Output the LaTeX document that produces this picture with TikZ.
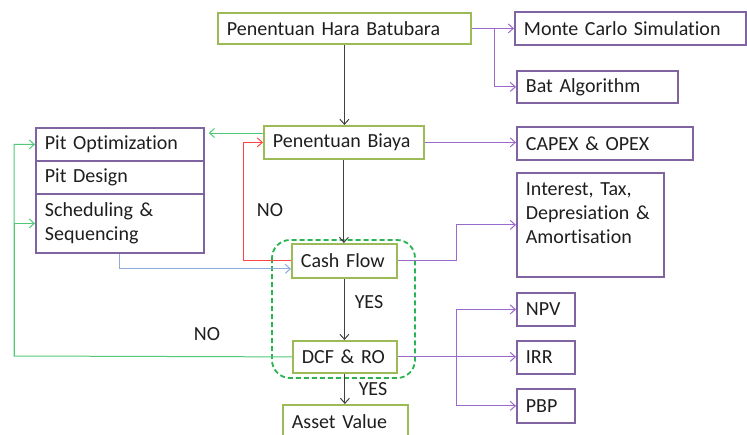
\documentclass[tikz,border=0pt]{standalone}
\usepackage{fontspec}
\setmainfont{Carlito}[Ligatures=NoCommon]
\usetikzlibrary{arrows.meta,positioning,calc}

\definecolor{boxgreen}{RGB}{155,187,89}
\definecolor{boxpurple}{RGB}{128,100,162}
\definecolor{linepurple}{RGB}{155,105,205}
\definecolor{linegreen}{RGB}{80,200,120}
\definecolor{dashgreen}{RGB}{40,180,80}
\definecolor{linered}{RGB}{255,70,70}
\definecolor{lineblue}{RGB}{140,170,220}
\definecolor{txtdark}{RGB}{30,30,30}

\begin{document}
\begin{tikzpicture}[x=1pt, y=-1pt,
    box/.style={draw, line width=1.8pt, anchor=north west, align=left,
        inner xsep=9pt, inner ysep=0pt, text=txtdark,
        font=\fontsize{20}{24}\selectfont},
    gbox/.style={box, draw=boxgreen},
    pbox/.style={box, draw=boxpurple},
    conn/.style={line width=1pt, -{Straight Barb[length=5pt,width=9pt]}},
    blk/.style={conn, draw=black!75},
    parr/.style={conn, draw=linepurple},
    garr/.style={conn, draw=linegreen},
    rarr/.style={conn, draw=linered},
    barr/.style={conn, draw=lineblue},
    lbl/.style={text=txtdark, font=\fontsize{20}{24}\selectfont}]
    \clip (0,0) rectangle (747,434);

    % Main flow
    \node[gbox, text width=235pt, minimum height=31pt] (hara) at (217,12) {Penentuan Hara Batubara};
    \node[gbox, text width=142pt, minimum height=33pt] (biaya) at (263,125) {Penentuan Biaya};
    \node[gbox, text width=87pt, minimum height=34pt] (cash) at (291,243) {Cash Flow};
    \node[gbox, text width=86pt, minimum height=32pt] (dcf) at (292,340) {DCF \& RO};
    \node[gbox, text width=107pt, minimum height=34pt] (asset) at (282,404) {Asset Value};

    % Right side boxes
    \node[pbox, text width=213pt, minimum height=33pt] (monte) at (514,11) {Monte Carlo Simulation};
    \node[pbox, text width=143pt, minimum height=32pt] (bat) at (516,70) {Bat Algorithm};
    \node[pbox, text width=158pt, minimum height=33pt] (capex) at (516,126) {CAPEX \& OPEX};
    \node[pbox, text width=129pt, minimum height=104pt] (interest) at (516,172)
        {Interest, Tax,\\Depresiation~\&\\Amortisation\\\mbox{}};
    \node[pbox, text width=40pt, minimum height=33pt] (npv) at (516,292) {NPV};
    \node[pbox, text width=40pt, minimum height=33pt] (irr) at (516,340) {IRR};
    \node[pbox, text width=40pt, minimum height=34pt] (pbp) at (516,388) {PBP};

    % Left stack
    \node[pbox, text width=150pt, minimum height=33pt] (pitopt) at (35,127) {Pit Optimization};
    \node[pbox, text width=150pt, minimum height=33pt] (pitdes) at (35,160) {Pit Design};
    \node[pbox, text width=150pt, minimum height=59pt] (sched) at (35,193) {Scheduling \&\\Sequencing};

    % Dashed group
    \draw[dashgreen, line width=1.8pt, dash pattern=on 5pt off 3pt, rounded corners=18pt]
        (272,240) rectangle (415,378);

    % Vertical arrows
    \draw[blk] (hara.south) -- (hara.south |- biaya.north);
    \draw[blk] (biaya.south) -- (biaya.south |- cash.north);
    \draw[blk] (cash.south) -- (cash.south |- dcf.north);
    \draw[blk] (dcf.south) -- (dcf.south |- asset.north);

    % Purple branches
    \draw[parr] (hara.east) -- (hara.east -| monte.west);
    \draw[parr] (hara.east) -- ++(23,0) |- (bat.west);
    \draw[parr] (biaya.east) -- (biaya.east -| capex.west);
    \draw[parr] (cash.east) -- ++(59,0) |- (interest.west);
    \draw[parr] (dcf.east) -- ++(59,0) |- (npv.west);
    \draw[parr] (dcf.east) -- (dcf.east -| irr.west);
    \draw[parr] (dcf.east) -- ++(59,0) |- (pbp.west);

    % Feedback loops
    \draw[garr] ([yshift=-8pt]biaya.north west) -- ([yshift=-8pt,xshift=4pt]biaya.north west -| pitopt.east);
    \draw[rarr] (cash.west) -- ++(-48,0) |- (biaya.west);
    \draw[barr] ([xshift=84pt]sched.south west) |- ([yshift=-8pt]cash.west);
    \coordinate (gl) at (14,356);
    \draw[garr] (dcf.west) -- (gl) |- (pitopt.west);
    \draw[garr] (gl) |- (sched.west);

    % Labels
    \node[lbl] (no1) at (270,210) {NO};
    \node[lbl] (yes1) at (369,302) {YES};
    \node[lbl] (no2) at (207,334) {NO};
    \node[lbl] (yes2) at (373,389) {YES};
\end{tikzpicture}
\end{document}
